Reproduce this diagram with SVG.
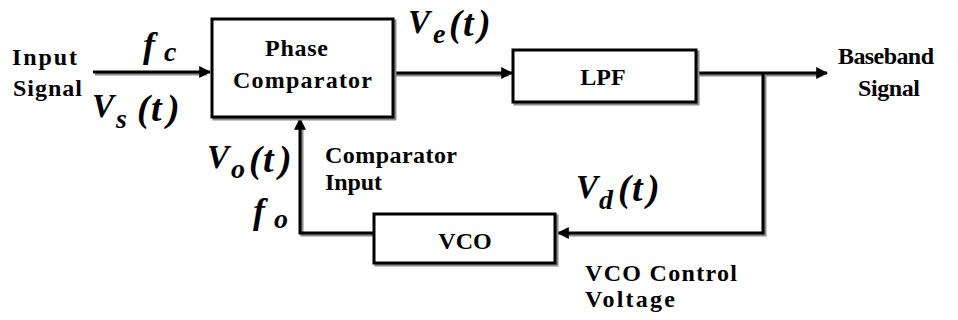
<svg xmlns="http://www.w3.org/2000/svg" width="958" height="320" viewBox="0 0 958 320">
<defs>
<style>
.t{font-family:'Liberation Serif','Times New Roman',serif;font-weight:bold;font-size:24px;fill:#000}
.m{font-family:'Liberation Serif','Times New Roman',serif;font-weight:bold;font-style:italic;fill:#000}
.box{fill:#fff;stroke:#000;stroke-width:3}
.sh{fill:none;stroke:#8a8a8a;stroke-width:3}
.ln{fill:none;stroke:#000;stroke-width:3}
</style>
<marker id="ah" viewBox="0 0 10 10" refX="9" refY="5" markerWidth="4" markerHeight="4" orient="auto" markerUnits="strokeWidth">
<path d="M0,0 L10,5 L0,10 z" fill="#000"/>
</marker>
</defs>
<rect width="958" height="320" fill="#fff"/>

<g id="connectors">
<g transform="translate(2,2)">
<path class="sh" d="M93,72 H205"/>
<path class="sh" d="M393,73 H507"/>
<path class="sh" d="M696,73 H821"/>
<path class="sh" d="M763,73 V233 H563"/>
<path class="sh" d="M374,233 H300 V124"/>
</g>
<path class="ln" d="M93,72 H210" marker-end="url(#ah)"/>
<path class="ln" d="M393,73 H512" marker-end="url(#ah)"/>
<path class="ln" d="M696,73 H827" marker-end="url(#ah)"/>
<path class="ln" d="M763,73 V233 H558" marker-end="url(#ah)"/>
<path class="ln" d="M374,233 H300 V119" marker-end="url(#ah)"/>
</g>

<g id="phase-comparator">
<rect class="sh" x="214" y="21" width="181" height="98"/>
<rect class="box" x="212" y="19" width="181" height="98"/>
<text class="t" x="265" y="56" textLength="63" lengthAdjust="spacing">Phase</text>
<text class="t" x="233" y="88" textLength="139" lengthAdjust="spacing">Comparator</text>
</g>

<g id="lpf">
<rect class="sh" x="515" y="52" width="183" height="52"/>
<rect class="box" x="513" y="50" width="183" height="52"/>
<text class="t" x="603" y="85" text-anchor="middle" font-size="25">LPF</text>
</g>

<g id="vco">
<rect class="sh" x="376" y="216" width="181" height="49"/>
<rect class="box" x="374" y="214" width="181" height="49"/>
<text class="t" x="465" y="249" text-anchor="middle" font-size="25">VCO</text>
</g>

<g id="labels">
<text class="t" x="12" y="65" textLength="65" lengthAdjust="spacing">Input</text>
<text class="t" x="13" y="96" textLength="69" lengthAdjust="spacing">Signal</text>
<text class="t" x="838" y="64" textLength="96" lengthAdjust="spacing">Baseband</text>
<text class="t" x="858" y="96" textLength="62" lengthAdjust="spacing">Signal</text>
<text class="t" x="325" y="163" textLength="132" lengthAdjust="spacing">Comparator</text>
<text class="t" x="325" y="190" textLength="57" lengthAdjust="spacing">Input</text>
<text class="t" x="585" y="281" textLength="152" lengthAdjust="spacing">VCO Control</text>
<text class="t" x="585" y="307" textLength="90" lengthAdjust="spacing">Voltage</text>

<text class="m"><tspan x="143" y="57" font-size="36">f</tspan><tspan x="164" y="61" font-size="28">c</tspan></text>
<text class="m" font-size="38"><tspan x="92" y="117" font-size="33">V</tspan><tspan x="116" y="128" font-size="28">s</tspan><tspan x="137" y="121">(</tspan><tspan x="151" y="121">t</tspan><tspan x="167" y="121">)</tspan></text>
<text class="m" font-size="38"><tspan x="408" y="33" font-size="33">V</tspan><tspan x="433" y="43" font-size="28">e</tspan><tspan x="449" y="36">(</tspan><tspan x="463" y="36">t</tspan><tspan x="478" y="36">)</tspan></text>
<text class="m" font-size="38"><tspan x="207" y="168" font-size="33">V</tspan><tspan x="231" y="178" font-size="28">o</tspan><tspan x="249" y="172">(</tspan><tspan x="263" y="172">t</tspan><tspan x="279" y="172">)</tspan></text>
<text class="m"><tspan x="253" y="223" font-size="36">f</tspan><tspan x="274" y="228" font-size="28">o</tspan></text>
<text class="m" font-size="38"><tspan x="576" y="198" font-size="33">V</tspan><tspan x="599" y="209" font-size="28">d</tspan><tspan x="618" y="201">(</tspan><tspan x="632" y="201">t</tspan><tspan x="647" y="201">)</tspan></text>
</g>
</svg>
